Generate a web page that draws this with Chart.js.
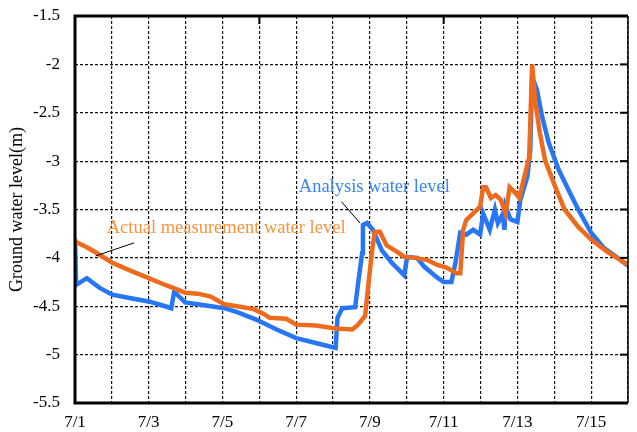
<!DOCTYPE html>
<html>
<head>
<meta charset="utf-8">
<script src="https://cdn.jsdelivr.net/npm/chart.js@4/dist/chart.umd.min.js"></script>
<style>
  html, body { margin: 0; padding: 0; background: #fff; }
  #wrap { width: 637px; height: 432px; }
</style>
</head>
<body>
<div id="wrap"><canvas id="chart" width="637" height="432"></canvas></div>
<script>
// Day offsets from 7/1 00:00 and groundwater level (m)
const dayTickLabels = ['7/1','7/2','7/3','7/4','7/5','7/6','7/7','7/8','7/9','7/10','7/11','7/12','7/13','7/14','7/15','7/16'];
const yTicks = [-5.5, -5, -4.5, -4, -3.5, -3, -2.5, -2, -1.5];

const measuredDays = [0, 0.32, 0.59, 1.01, 1.55, 2.0, 2.45, 2.8, 2.99, 3.33, 3.68, 4.05, 4.4, 4.85, 5.12, 5.28, 5.73, 6.0, 6.53, 7.07, 7.52, 7.68, 7.87, 7.95, 8.05, 8.13, 8.27, 8.45, 8.75, 8.93, 9.2, 9.55, 9.81, 10.08, 10.35, 10.45, 10.53, 10.61, 10.8, 10.99, 11.07, 11.15, 11.28, 11.41, 11.55, 11.68, 11.79, 11.95, 12.05, 12.19, 12.32, 12.4, 12.48, 12.61, 12.75, 12.99, 13.28, 13.65, 14.0, 14.45, 15.0];
const measuredLevels = [-3.83, -3.89, -3.95, -4.05, -4.14, -4.21, -4.28, -4.33, -4.36, -4.37, -4.4, -4.48, -4.5, -4.53, -4.58, -4.62, -4.63, -4.69, -4.7, -4.73, -4.74, -4.69, -4.6, -4.3, -3.95, -3.73, -3.73, -3.87, -3.94, -3.99, -4.0, -4.02, -4.07, -4.1, -4.16, -4.16, -3.71, -3.61, -3.54, -3.47, -3.27, -3.27, -3.38, -3.35, -3.4, -3.54, -3.27, -3.33, -3.38, -3.16, -2.96, -2.0, -2.37, -2.71, -2.99, -3.23, -3.5, -3.68, -3.81, -3.94, -4.07];

const analysisDays = [0, 0.03, 0.32, 0.67, 1.01, 1.55, 2.0, 2.45, 2.61, 2.69, 2.99, 3.33, 4.05, 4.4, 4.93, 5.47, 6.0, 6.53, 7.07, 7.12, 7.25, 7.6, 7.68, 7.79, 7.81, 7.92, 8.08, 8.32, 8.59, 8.93, 9.01, 9.28, 9.47, 9.81, 10.0, 10.21, 10.32, 10.45, 10.61, 10.8, 10.99, 11.07, 11.25, 11.39, 11.47, 11.6, 11.65, 11.68, 11.81, 12.0, 12.08, 12.27, 12.35, 12.4, 12.53, 12.67, 12.85, 13.12, 13.39, 13.65, 14.0, 14.35, 14.72, 15.0];
const analysisLevels = [-3.8, -4.28, -4.21, -4.31, -4.38, -4.42, -4.45, -4.5, -4.52, -4.35, -4.46, -4.48, -4.52, -4.56, -4.64, -4.74, -4.83, -4.88, -4.93, -4.62, -4.52, -4.51, -4.26, -3.95, -3.66, -3.64, -3.71, -3.92, -4.05, -4.18, -3.99, -4.0, -4.09, -4.2, -4.25, -4.25, -4.05, -3.74, -3.76, -3.71, -3.76, -3.54, -3.71, -3.5, -3.64, -3.55, -3.71, -3.47, -3.6, -3.63, -3.4, -3.16, -2.88, -2.13, -2.26, -2.54, -2.81, -3.09, -3.3, -3.5, -3.74, -3.9, -4.0, -4.08];

const toPoints = (xs, ys) => xs.map((x, i) => ({ x: x, y: ys[i] }));

// Callout labels, placed in data coordinates
const callouts = [
  { text: 'Analysis water level', color: '#3a84f3', x: 6.07, y: -3.27,
    line: [[7.23, -3.42], [7.73, -3.64]] },
  { text: 'Actual measurement water level', color: '#f6953f', x: 0.86, y: -3.69,
    line: [[1.6, -3.845], [0.56, -3.98]] }
];

const SERIF = '"Liberation Serif", "Times New Roman", serif';

const frame = {
  id: 'frame',
  afterDatasetsDraw(chart) {
    const { ctx, chartArea: a, scales } = chart;
    ctx.save();
    ctx.strokeStyle = '#000';
    ctx.setLineDash([]);
    // inward ticks on the right axis
    ctx.lineWidth = 2;
    yTicks.forEach(v => {
      const y = scales.y.getPixelForValue(v);
      ctx.beginPath(); ctx.moveTo(a.right - 8, y); ctx.lineTo(a.right, y); ctx.stroke();
    });
    // inward ticks on the top axis
    [5, 10].forEach(d => {
      const x = scales.x.getPixelForValue(d);
      ctx.beginPath(); ctx.moveTo(x, a.top); ctx.lineTo(x, a.top + 8); ctx.stroke();
    });
    // frame
    ctx.lineWidth = 1.5;
    ctx.beginPath(); ctx.moveTo(a.right, a.top); ctx.lineTo(a.right, a.bottom); ctx.stroke();
    ctx.lineWidth = 3;
    ctx.beginPath();
    ctx.moveTo(a.right, a.top); ctx.lineTo(a.left, a.top);
    ctx.lineTo(a.left, a.bottom); ctx.lineTo(a.right, a.bottom);
    ctx.stroke();
    ctx.restore();
  }
};

const calloutPlugin = {
  id: 'callouts',
  afterDatasetsDraw(chart) {
    const { ctx, scales } = chart;
    ctx.save();
    callouts.forEach(c => {
      ctx.strokeStyle = '#000';
      ctx.lineWidth = 1;
      ctx.beginPath();
      ctx.moveTo(scales.x.getPixelForValue(c.line[0][0]), scales.y.getPixelForValue(c.line[0][1]));
      ctx.lineTo(scales.x.getPixelForValue(c.line[1][0]), scales.y.getPixelForValue(c.line[1][1]));
      ctx.stroke();
      ctx.font = '18.5px ' + SERIF;
      ctx.fillStyle = c.color;
      ctx.textAlign = 'left';
      ctx.textBaseline = 'middle';
      ctx.fillText(c.text, scales.x.getPixelForValue(c.x), scales.y.getPixelForValue(c.y));
    });
    ctx.restore();
  }
};

new Chart(document.getElementById('chart'), {
  type: 'line',
  data: {
    datasets: [
      {
        label: 'Actual measurement water level',
        data: toPoints(measuredDays, measuredLevels),
        borderColor: '#ee6a1c',
        borderWidth: 4.5,
        pointRadius: 0,
        tension: 0,
        borderJoinStyle: 'miter'
      },
      {
        label: 'Analysis water level',
        data: toPoints(analysisDays, analysisLevels),
        borderColor: '#2676f5',
        borderWidth: 4.5,
        pointRadius: 0,
        tension: 0,
        borderJoinStyle: 'miter'
      }
    ]
  },
  options: {
    responsive: false,
    animation: false,
    devicePixelRatio: 1,
    layout: { padding: { top: 16, right: 1, left: 0, bottom: 0 } },
    plugins: { legend: { display: false }, tooltip: { enabled: false } },
    scales: {
      x: {
        type: 'linear',
        min: 0,
        max: 15,
        afterFit(scale) { scale.height = 29; },
        afterBuildTicks(scale) {
          scale.ticks = dayTickLabels.map((_, i) => ({ value: i }));
        },
        ticks: {
          autoSkip: false,
          maxRotation: 0,
          padding: 9,
          color: '#000',
          font: { family: SERIF, size: 17 },
          callback: v => (v % 2 === 0 ? dayTickLabels[v] : '')
        },
        grid: { color: '#111', lineWidth: 1.2, drawTicks: false },
        border: { display: false, dash: [3, 2] }
      },
      y: {
        min: -5.5,
        max: -1.5,
        afterFit(scale) {
          scale.width = 75;
          scale.paddingTop = 0;
          scale.paddingBottom = 0;
        },
        afterBuildTicks(scale) {
          scale.ticks = yTicks.map(v => ({ value: v }));
        },
        ticks: {
          padding: 15,
          color: '#000',
          font: { family: SERIF, size: 17 },
          callback: v => String(v)
        },
        grid: { color: '#111', lineWidth: 1.2, drawTicks: false },
        border: { display: false, dash: [3, 2] },
        title: {
          display: true,
          text: 'Ground water level(m)',
          color: '#000',
          font: { family: SERIF, size: 18 },
          padding: { top: 6, bottom: 4 }
        }
      }
    }
  },
  plugins: [calloutPlugin, frame]
});
</script>
</body>
</html>
